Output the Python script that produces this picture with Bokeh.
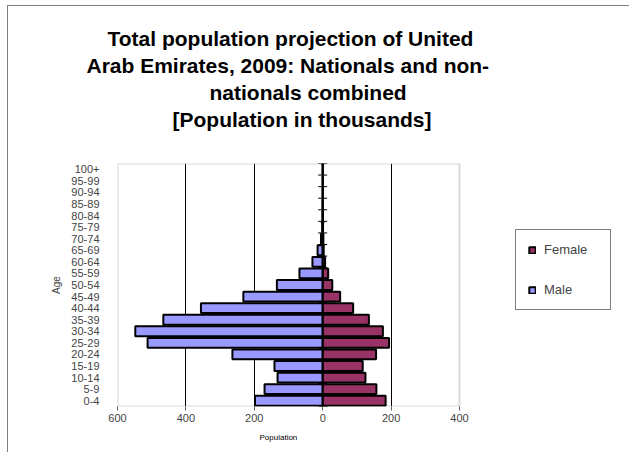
from bokeh.embed import file_html
from bokeh.models import (BoxAnnotation, FixedTicker, Legend, LegendItem,
                          Range1d, Span, Title)
from bokeh.plotting import figure
from bokeh.resources import INLINE

# population in thousands
age_groups = ["0-4", "5-9", "10-14", "15-19", "20-24", "25-29", "30-34",
              "35-39", "40-44", "45-49", "50-54", "55-59", "60-64", "65-69",
              "70-74", "75-79", "80-84", "85-89", "90-94", "95-99", "100+"]
male = [198, 170, 132, 141, 264, 512, 548, 466, 356, 232, 134, 68, 30, 15,
        5, 1.5, 0.8, 0.5, 0.4, 0.3, 0.2]
female = [184, 157, 125, 117, 156, 194, 176, 135, 89, 51, 28, 16, 7, 3,
          2, 1, 0.6, 0.4, 0.3, 0.2, 0.1]
x_ticks = [-600, -400, -200, 0, 200, 400]
title_lines = ["Total population projection of United",
               "Arab Emirates, 2009:  Nationals and non-",
               "nationals combined",
               "[Population in thousands]"]

FONT = "Liberation Sans"

x_lo, x_hi = x_ticks[0], x_ticks[-1]
# the frame runs on past the plot box so the legend can sit inside it
px_per_unit = 342 / (x_hi - x_lo)
x_end = x_hi + 166 / px_per_unit

y_mid = [i + 0.5 for i in range(len(age_groups))]
y_edges = list(range(len(age_groups) + 1))

# chart area sits 7px in / 5px down, with a thin grey edge on its left and top
p = figure(
    width=622,
    height=447,
    x_range=Range1d(x_lo, x_end),
    y_range=Range1d(0, len(age_groups)),
    output_backend="svg",
    toolbar_location=None,
    min_border_left=109,
    min_border_right=5,
    min_border_top=157,
    min_border_bottom=47,
    margin=(5, 0, 0, 7),
    styles={"border-left": "1px solid #808080", "border-top": "1px solid #808080"},
)
p.outline_line_color = None
p.background_fill_color = "white"
p.border_fill_color = "white"

# spacer between frame and title block, then the title lines bottom-up
p.add_layout(Title(text=" ", text_font_size="1px", standoff=29), "above")
offsets = [-10, -31, 92, 55]
for line, off in reversed(list(zip(title_lines, offsets))):
    p.add_layout(
        Title(text=line, align="left", offset=off, standoff=2,
              text_font=FONT, text_font_size="21px", text_font_style="bold",
              text_color="black"),
        "above",
    )

# grey plot-area box
p.add_layout(BoxAnnotation(left=x_lo, right=x_hi, bottom=0, top=len(age_groups),
                           fill_color=None, line_color="#808080", line_width=2,
                           level="underlay"))

r_m = p.hbar(y=y_mid, left=[-v for v in male], right=0, height=0.85,
             fill_color="#9999FF", line_color="black", line_width=2)
r_f = p.hbar(y=y_mid, left=0, right=female, height=0.85,
             fill_color="#993366", line_color="black", line_width=2)

# central value axis with its little tick marks
p.add_layout(Span(location=0, dimension="height", line_color="black", line_width=1.5))
p.scatter(x=[0] * len(y_edges), y=y_edges, marker="dash", size=9,
          line_color="black", line_width=1)

# x axis
p.xaxis.ticker = FixedTicker(ticks=x_ticks)
p.xaxis.major_label_overrides = {t: str(abs(t)) for t in x_ticks}
p.xaxis.major_label_text_font = FONT
p.xaxis.major_label_text_font_size = "11px"
p.xaxis.major_label_standoff = 3
p.xaxis.axis_line_color = None
p.xaxis.major_tick_in = 0
p.xaxis.major_tick_out = 4
p.xaxis.major_tick_line_color = "#606060"
p.xaxis.minor_tick_line_color = None

# x axis title, placed under the plot box rather than the whole frame
p.add_layout(Title(text="Population", align="left", offset=142, standoff=13,
                   text_font=FONT, text_font_size="8px", text_font_style="normal",
                   text_color="black"), "below")

p.xgrid.ticker = FixedTicker(ticks=x_ticks[1:-1])
p.xgrid.grid_line_color = "black"
p.ygrid.grid_line_color = None

# y axis: age groups
p.yaxis.ticker = FixedTicker(ticks=y_mid)
p.yaxis.major_label_overrides = {y: lab for y, lab in zip(y_mid, age_groups)}
p.yaxis.major_label_text_font = FONT
p.yaxis.major_label_text_font_size = "11px"
p.yaxis.major_label_standoff = 12
p.yaxis.major_tick_line_color = None
p.yaxis.minor_tick_line_color = None
p.yaxis.axis_line_color = None
p.yaxis.axis_label = "Age"
p.yaxis.axis_label_text_font = FONT
p.yaxis.axis_label_text_font_size = "10px"
p.yaxis.axis_label_text_font_style = "normal"
p.yaxis.axis_label_standoff = 6

legend = Legend(
    items=[LegendItem(label="Female", renderers=[r_f]),
           LegendItem(label="Male", renderers=[r_m])],
    location=(398, 96),
    border_line_color="black",
    border_line_width=1,
    background_fill_color="white",
    background_fill_alpha=1,
    padding=12,
    spacing=25,
    glyph_width=8,
    glyph_height=8,
    label_standoff=8,
    label_width=54,
    label_height=12,
    label_text_font=FONT,
    label_text_font_size="13px",
    margin=0,
)
p.add_layout(legend)

open("out.html", "w").write(file_html(p, INLINE))
